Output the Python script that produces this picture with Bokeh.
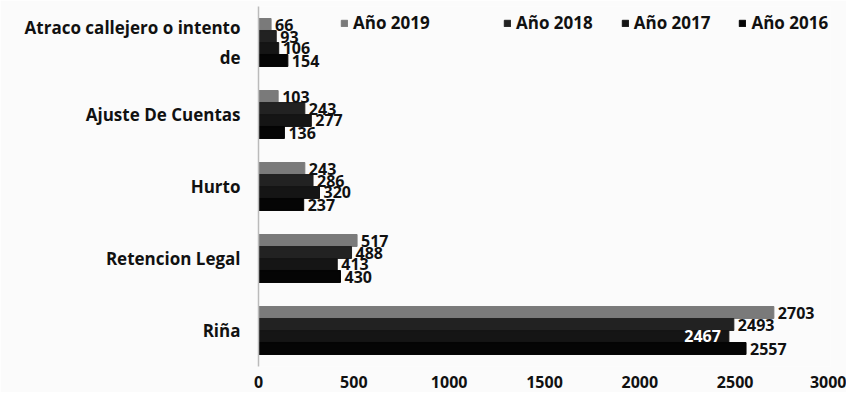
from bokeh.plotting import figure
from bokeh.models import ColumnDataSource, Legend, LegendItem, FactorRange, Range1d, FixedTicker
from bokeh.transform import dodge
from bokeh.core.properties import value
from bokeh.embed import file_html
from bokeh.resources import INLINE

categories = ["Atraco callejero o intento\nde", "Ajuste De Cuentas", "Hurto", "Retencion Legal", "Riña"]
years = ["Año 2019", "Año 2018", "Año 2017", "Año 2016"]
v2019 = [66, 103, 243, 517, 2703]
v2018 = [93, 243, 286, 488, 2493]
v2017 = [106, 277, 320, 413, 2467]
v2016 = [154, 136, 237, 430, 2557]
x_ticks = [0, 500, 1000, 1500, 2000, 2500, 3000]

colors = ["#7a7a7a", "#222222", "#151515", "#050505"]
offsets = [0.25, 0.0833, -0.0833, -0.25]
FONT = "Open Sans"
TXT = "#111111"

src = ColumnDataSource(dict(cat=categories, y2019=v2019, y2018=v2018, y2017=v2017, y2016=v2016,
                            l2019=[str(v) for v in v2019], l2018=[str(v) for v in v2018],
                            l2016=[str(v) for v in v2016]))

p = figure(width=846, height=392, output_backend="svg", toolbar_location=None,
           y_range=FactorRange(factors=categories[::-1], range_padding=0),
           x_range=Range1d(0, 3000),
           min_border_left=258, min_border_right=16, min_border_top=6, min_border_bottom=26)

p.background_fill_color = "#fbfbfb"
p.border_fill_color = "#fbfbfb"
p.outline_line_color = None
p.grid.visible = False

keys = ["2019", "2018", "2017", "2016"]
renderers = []
for k, col, off in zip(keys, colors, offsets):
    r = p.hbar(y=dodge("cat", off, range=p.y_range), right="y" + k, left=0, height=0.166,
               source=src, fill_color=col, line_color=col)
    renderers.append(r)

for k, off in zip(["2019", "2018", "2016"], [offsets[0], offsets[1], offsets[3]]):
    p.text(x="y" + k, y=dodge("cat", off, range=p.y_range), text="l" + k, source=src,
           x_offset=4, text_baseline="middle", text_align="left",
           text_font=value(FONT), text_font_style="bold", text_font_size="16px", text_color=TXT)

# 2017 labels: the last one sits inside its bar in white
src17a = ColumnDataSource(dict(cat=categories[:4], v=v2017[:4], t=[str(v) for v in v2017[:4]]))
src17b = ColumnDataSource(dict(cat=categories[4:], v=v2017[4:], t=[str(v) for v in v2017[4:]]))
p.text(x="v", y=dodge("cat", -0.0833, range=p.y_range), text="t", source=src17a,
       x_offset=4, text_baseline="middle", text_align="left",
       text_font=value(FONT), text_font_style="bold", text_font_size="16px", text_color=TXT)
p.text(x="v", y=dodge("cat", -0.0833, range=p.y_range), text="t", source=src17b,
       x_offset=-8, text_baseline="middle", text_align="right",
       text_font=value(FONT), text_font_style="bold", text_font_size="16px", text_color="#ffffff")

p.xaxis.ticker = FixedTicker(ticks=x_ticks)
p.xaxis.axis_line_color = None
p.xaxis.major_tick_line_color = None
p.xaxis.minor_tick_line_color = None
p.xaxis.major_label_text_font = FONT
p.xaxis.major_label_text_font_style = "bold"
p.xaxis.major_label_text_font_size = "16px"
p.xaxis.major_label_text_color = TXT
p.xaxis.major_label_standoff = 3

p.yaxis.axis_line_color = "#bbbbbb"
p.yaxis.axis_line_width = 1.5
p.yaxis.major_tick_line_color = None
p.yaxis.minor_tick_line_color = None
p.yaxis.major_label_text_font = FONT
p.yaxis.major_label_text_font_style = "bold"
p.yaxis.major_label_text_font_size = "17px"
p.yaxis.major_label_text_color = TXT
p.yaxis.major_label_text_line_height = 1.3
p.yaxis.major_label_standoff = 12

leg1 = Legend(items=[LegendItem(label=years[0], renderers=[renderers[0]])],
              location=(82, 332), orientation="horizontal")
leg2 = Legend(items=[LegendItem(label=y, renderers=[r]) for y, r in zip(years[1:], renderers[1:])],
              location=(245, 332), orientation="horizontal", spacing=28)
for lg in (leg1, leg2):
    lg.glyph_width = 8
    lg.glyph_height = 8
    lg.label_standoff = 5
    lg.label_text_font = FONT
    lg.label_text_font_style = "bold"
    lg.label_text_font_size = "17px"
    lg.label_text_color = TXT
    lg.background_fill_alpha = 0
    lg.border_line_color = None
    lg.padding = 0
    lg.margin = 0
    p.add_layout(lg)

open("out.html", "w").write(file_html(p, INLINE))
